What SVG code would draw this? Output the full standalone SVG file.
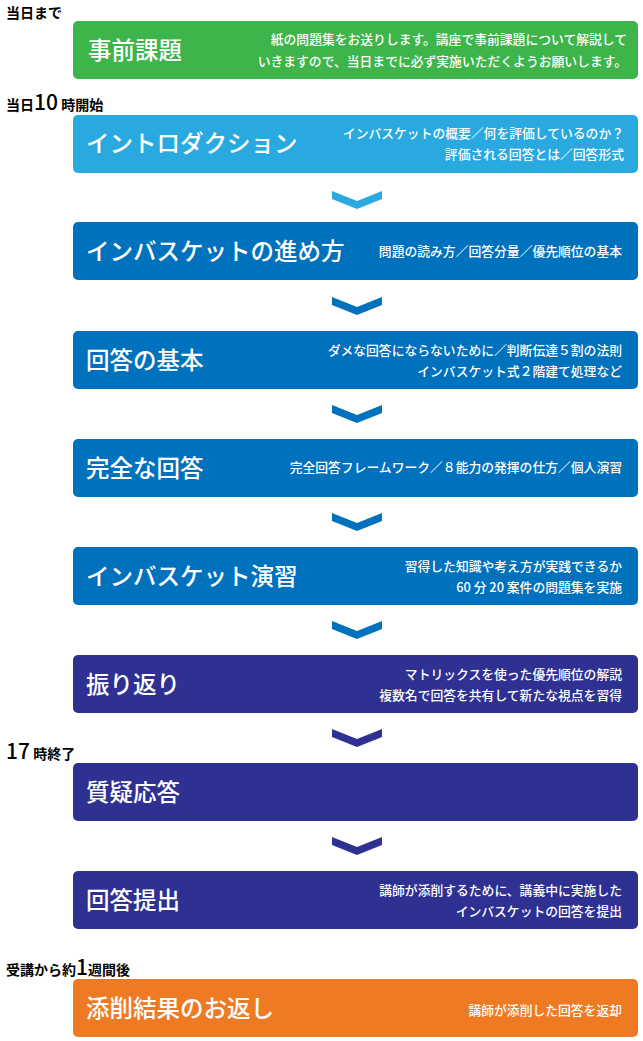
<svg xmlns="http://www.w3.org/2000/svg" width="643" height="1041" viewBox="0 0 643 1041">
<style>
text{font-family:"Noto Sans CJK JP","Noto Sans",sans-serif;}
.t{fill:#fff;font-size:23.5px;font-weight:500}
.d{fill:#fff;font-size:12.8px;font-weight:500;text-anchor:end}
.l{fill:#000;font-size:14px;font-weight:700}
.g{fill:#3db54a}.lb{fill:#29a9e0}.b{fill:#0071bc}.n{fill:#2e3192}.o{fill:#ee7b23}
</style>
<rect width="643" height="1041" fill="#fff"/>
<defs><path id="chev" d="M-25,-9 L0,1 L25,-9 L25,-1 L0,9 L-25,-1 Z"/></defs>
<g id="connectors">
<use href="#chev" x="357" y="200" class="lb"/>
<use href="#chev" x="357" y="306" class="b"/>
<use href="#chev" x="357" y="414" class="b"/>
<use href="#chev" x="357" y="522" class="b"/>
<use href="#chev" x="357" y="630" class="b"/>
<use href="#chev" x="357" y="738" class="n"/>
<use href="#chev" x="357" y="846" class="n"/>
</g>
<g id="labels">
<text class="l" x="6" y="18">当日まで</text>
<text class="l" x="6" y="110">当日<tspan font-size="21" font-weight="500">10</tspan> 時開始</text>
<text class="l" x="6" y="759"><tspan font-size="21" font-weight="500">17</tspan> 時終了</text>
<text class="l" x="6" y="975">受講から約<tspan font-size="21" font-weight="500">1</tspan>週間後</text>
</g>
<g id="n1"><rect class="g" x="73" y="21" width="565" height="58" rx="5"/>
<text class="t" x="88" y="59" font-size="25">事前課題</text>
<text class="d" x="627" y="44">紙の問題集をお送りします。講座で事前課題について解説して</text>
<text class="d" x="627" y="66">いきますので、当日までに必ず実施いただくようお願いします。</text></g>
<g id="n2"><rect class="lb" x="73" y="115" width="565" height="58" rx="5"/>
<text class="t" x="86" y="152">イントロダクション</text>
<text class="d" x="624" y="138">インバスケットの概要／何を評価しているのか？</text>
<text class="d" x="624" y="159">評価される回答とは／回答形式</text></g>
<g id="n3"><rect class="b" x="73" y="222" width="565" height="58" rx="5"/>
<text class="t" x="86" y="260">インバスケットの進め方</text>
<text class="d" x="622" y="256">問題の読み方／回答分量／優先順位の基本</text></g>
<g id="n4"><rect class="b" x="73" y="331" width="565" height="58" rx="5"/>
<text class="t" x="86" y="369">回答の基本</text>
<text class="d" x="622" y="355">ダメな回答にならないために／判断伝達５割の法則</text>
<text class="d" x="622" y="376">インバスケット式２階建て処理など</text></g>
<g id="n5"><rect class="b" x="73" y="439" width="565" height="58" rx="5"/>
<text class="t" x="86" y="477">完全な回答</text>
<text class="d" x="622" y="472">完全回答フレームワーク／８能力の発揮の仕方／個人演習</text></g>
<g id="n6"><rect class="b" x="73" y="547" width="565" height="58" rx="5"/>
<text class="t" x="86" y="585">インバスケット演習</text>
<text class="d" x="622" y="571">習得した知識や考え方が実践できるか</text>
<text class="d" x="622" y="592">60 分 20 案件の問題集を実施</text></g>
<g id="n7"><rect class="n" x="73" y="655" width="565" height="58" rx="5"/>
<text class="t" x="86" y="693">振り返り</text>
<text class="d" x="622" y="679">マトリックスを使った優先順位の解説</text>
<text class="d" x="622" y="700">複数名で回答を共有して新たな視点を習得</text></g>
<g id="n8"><rect class="n" x="73" y="763" width="565" height="58" rx="5"/>
<text class="t" x="86" y="801">質疑応答</text></g>
<g id="n9"><rect class="n" x="73" y="871" width="565" height="58" rx="5"/>
<text class="t" x="86" y="909">回答提出</text>
<text class="d" x="622" y="895">講師が添削するために、講義中に実施した</text>
<text class="d" x="622" y="916">インバスケットの回答を提出</text></g>
<g id="n10"><rect class="o" x="73" y="979" width="565" height="58" rx="5"/>
<text class="t" x="86" y="1017">添削結果のお返し</text>
<text class="d" x="622" y="1015">講師が添削した回答を返却</text></g>
</svg>
